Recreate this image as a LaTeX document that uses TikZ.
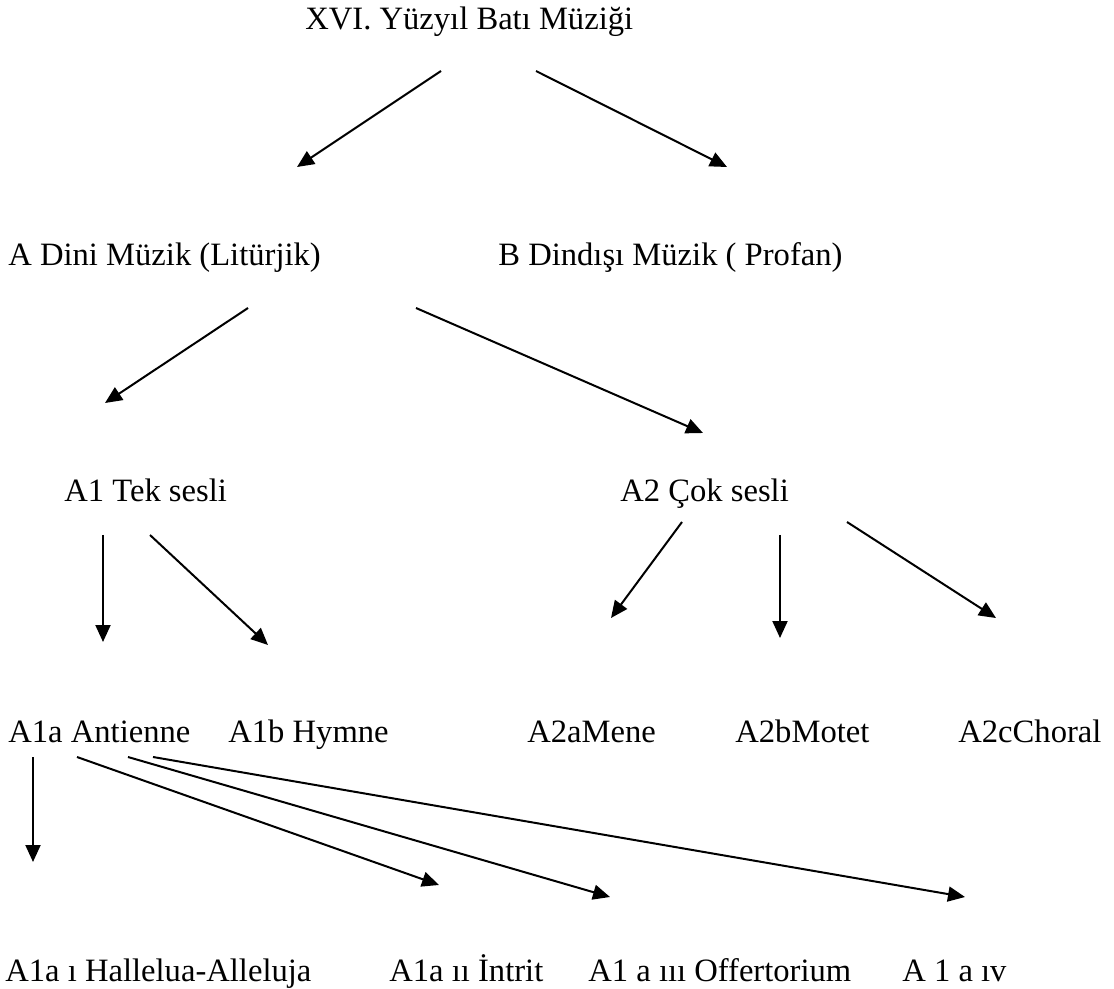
\documentclass[tikz,border=0pt]{standalone}
\usepackage{fontspec}
\setmainfont{Liberation Serif}
\usepackage{tikz}
\usetikzlibrary{arrows.meta}
\tikzset{
    item/.style={
      anchor=base west,
      inner sep=0pt,
      font=\fontsize{16.3}{19}\selectfont,
    },
    arr/.style={
      -{Triangle[length=8.5pt,width=7.5pt]},
      line width=1pt,
    },
}

\begin{document}
\begin{tikzpicture}[x=0.5pt,y=-0.5pt]

    \useasboundingbox (0,0) rectangle (1114,989);

    % levels
    \node[item] (title) at (305,30) {XVI. Yüzyıl Batı Müziği};

    \node[item] (adini) at (8,266)   {A Dini Müzik (Litürjik)};
    \node[item] (bdin)  at (498,266) {B Dindışı Müzik ( Profan)};

    \node[item] (aone) at (64,502)  {A1 Tek sesli};
    \node[item] (atwo) at (620,502) {A2 Çok sesli};

    \node[item] (aonea) at (8,742)   {A1a Antienne};
    \node[item] (aoneb) at (228,742) {A1b Hymne};
    \node[item] (atwoa) at (527,742) {A2aMene};
    \node[item] (atwob) at (735,742) {A2bMotet};
    \node[item] (atwoc) at (958,742) {A2cChoral};

    \node[item] (ai)   at (5,981)   {A1a ı Hallelua-Alleluja};
    \node[item] (aii)  at (389,981) {A1a ıı İntrit};
    \node[item] (aiii) at (588,981) {A1 a ııı Offertorium};
    \node[item] (aiv)  at (902,981) {A 1 a ıv};

    % arrows
    \draw[arr] ([shift={(136,41)}]title.base west) -- ([shift={(289,-99)}]adini.base west);
    \draw[arr] ([shift={(231,41)}]title.base west) -- ([shift={(229,-99)}]bdin.base west);

    \draw[arr] ([shift={(240,42)}]adini.base west) -- ([shift={(41,-99)}]aone.base west);
    \draw[arr] ([shift={(408,42)}]adini.base west) -- ([shift={(83,-69)}]atwo.base west);

    \draw[arr] ([shift={(39,33)}]aone.base west) -- ([shift={(95,-100)}]aonea.base west);
    \draw[arr] ([shift={(86,33)}]aone.base west) -- ([shift={(40,-97)}]aoneb.base west);

    \draw[arr] ([shift={(62,20)}]atwo.base west) -- ([shift={(84,-124)}]atwoa.base west);
    \draw[arr] ([shift={(160,33)}]atwo.base west) -- ([shift={(45,-104)}]atwob.base west);
    \draw[arr] ([shift={(227,20)}]atwo.base west) -- ([shift={(38,-124)}]atwoc.base west);

    \draw[arr] ([shift={(25,15)}]aonea.base west) -- ([shift={(28,-119)}]ai.base west);
    \draw[arr] ([shift={(69,15)}]aonea.base west) -- ([shift={(50,-96)}]aii.base west);
    \draw[arr] ([shift={(120,15)}]aonea.base west) -- ([shift={(22,-84)}]aiii.base west);
    \draw[arr] ([shift={(145,15)}]aonea.base west) -- ([shift={(63,-84)}]aiv.base west);

\end{tikzpicture}
\end{document}
